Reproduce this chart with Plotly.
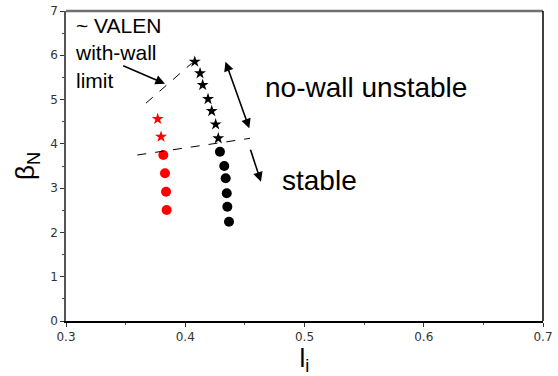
import plotly.graph_objects as go

# Data (l_i, beta_N)
black_star_li = [0.408, 0.4124, 0.4146, 0.4191, 0.4222, 0.4255, 0.4277]
black_star_bn = [5.855, 5.593, 5.329, 5.012, 4.741, 4.441, 4.125]
black_dot_li = [0.4291, 0.4327, 0.4339, 0.4348, 0.4353, 0.4367]
black_dot_bn = [3.823, 3.50, 3.222, 2.883, 2.581, 2.242]
red_star_li = [0.3769, 0.3797]
red_star_bn = [4.561, 4.161]
red_dot_li = [0.3816, 0.383, 0.3839, 0.3844]
red_dot_bn = [3.748, 3.335, 2.919, 2.506]

# Guide lines
wall_line_x = [0.3671, 0.4054]
wall_line_y = [4.92, 5.82]
stable_line_x = [0.3598, 0.4543]
stable_line_y = [3.748, 4.125]

x_ticks = [0.3, 0.4, 0.5, 0.6, 0.7]
y_ticks = [0, 1, 2, 3, 4, 5, 6, 7]

fig = go.Figure()
fig.add_trace(go.Scatter(x=black_star_li, y=black_star_bn, mode="markers",
                         marker=dict(symbol="star", size=9, color="black"), showlegend=False))
fig.add_trace(go.Scatter(x=black_dot_li, y=black_dot_bn, mode="markers",
                         marker=dict(symbol="circle", size=10, color="black"), showlegend=False))
fig.add_trace(go.Scatter(x=red_star_li, y=red_star_bn, mode="markers",
                         marker=dict(symbol="star", size=9, color="red"), showlegend=False))
fig.add_trace(go.Scatter(x=red_dot_li, y=red_dot_bn, mode="markers",
                         marker=dict(symbol="circle", size=10, color="red"), showlegend=False))

for xs, ys in [(wall_line_x, wall_line_y), (stable_line_x, stable_line_y)]:
    fig.add_shape(type="line", x0=xs[0], y0=ys[0], x1=xs[1], y1=ys[1], xref="x", yref="y",
                  line=dict(color="black", width=1, dash="dash"))

# frame lines (top gray, right black)
fig.add_shape(type="line", xref="x domain", yref="y domain", x0=0, x1=1, y0=1, y1=1,
              line=dict(color="#707070", width=2.5))
fig.add_shape(type="line", xref="x domain", yref="y domain", x0=1, x1=1, y0=0, y1=1,
              line=dict(color="black", width=1.5))

# arrows
arrow = dict(xref="x", yref="y", axref="x", ayref="y", text="", showarrow=True,
             arrowhead=2, arrowsize=1.2, arrowwidth=1.6, arrowcolor="black")
fig.add_annotation(x=0.3830, y=5.36, ax=0.3467, ay=5.78, **arrow)
fig.add_annotation(x=0.4537, y=4.35, ax=0.4333, ay=5.89, arrowside="end+start", **arrow)
fig.add_annotation(x=0.4635, y=3.145, ax=0.4543, ay=3.90, **arrow)

font_txt = "Liberation Sans, Arial, sans-serif"
fig.add_annotation(x=0.3059, y=6.97, xref="x", yref="y", text="~ VALEN<br>with-wall<br>limit",
                   showarrow=False, xanchor="left", yanchor="top", align="left",
                   font=dict(family=font_txt, size=21, color="black"))
fig.add_annotation(x=0.4652, y=5.28, xref="x", yref="y", text="no-wall unstable",
                   showarrow=False, xanchor="left", yanchor="middle",
                   font=dict(family=font_txt, size=28, color="black"))
fig.add_annotation(x=0.4795, y=3.18, xref="x", yref="y", text="stable",
                   showarrow=False, xanchor="left", yanchor="middle",
                   font=dict(family=font_txt, size=28, color="black"))

tickfont = dict(family="DejaVu Sans", size=12, color="#333333")
fig.update_xaxes(range=[0.3, 0.7], tickvals=x_ticks, ticktext=[str(v) for v in x_ticks],
                 ticks="outside", ticklen=4, tickwidth=1, tickcolor="#333",
                 minor=dict(dtick=0.05, ticks="outside", ticklen=2, tickcolor="#555"),
                 showline=True, linecolor="black", linewidth=1.5, showgrid=False, zeroline=False,
                 tickfont=tickfont, automargin=False,
                 title=dict(text="l<sub>i</sub>", font=dict(family=font_txt, size=26, color="black"), standoff=4))
fig.update_yaxes(range=[0, 7], tickvals=y_ticks, ticks="outside", ticklen=4, tickwidth=1, tickcolor="#333",
                 minor=dict(dtick=0.5, ticks="outside", ticklen=2, tickcolor="#555"),
                 showline=True, linecolor="#555555", linewidth=1.5, showgrid=False, zeroline=False,
                 tickfont=tickfont, automargin=False,
                 title=dict(text="β<sub>N</sub>", font=dict(family=font_txt, size=26, color="black"), standoff=8))
fig.update_layout(width=558, height=376, margin=dict(l=66, r=15, t=11, b=55),
                  plot_bgcolor="white", paper_bgcolor="white")
fig.write_html("out.html", config={"displayModeBar": False},
               post_script="document.body.style.margin='0';document.body.style.overflow='hidden';")
